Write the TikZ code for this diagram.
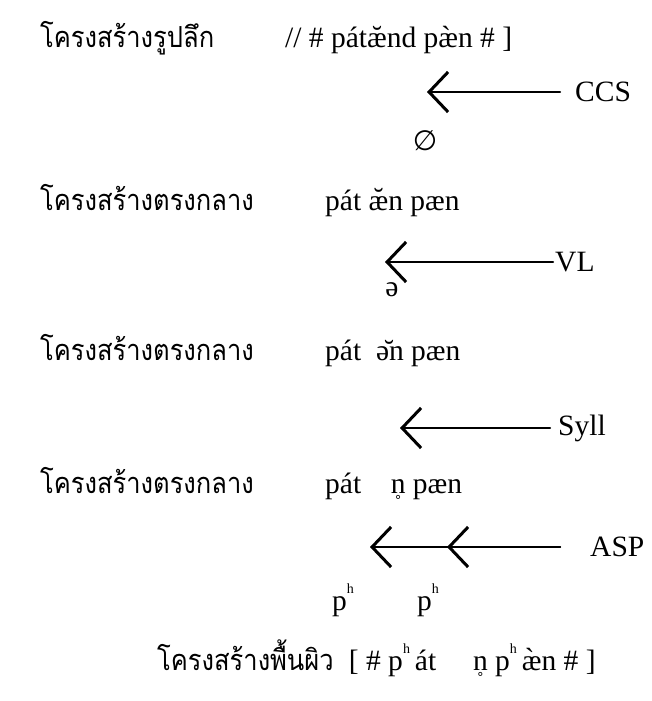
\documentclass[tikz,border=0pt]{standalone}
\usepackage{fontspec}
\setmainfont{Liberation Serif}
\newfontfamily\thai[Script=Thai,FakeStretch=0.88]{Loma}
\newfontfamily\symf{DejaVu Sans}
\usetikzlibrary{arrows.meta}
% aspirated p: a small h raised to ascender height
\newcommand{\asp}{p\raisebox{0.55em}{\fontsize{14}{14}\selectfont h}}
% voiceless n: n with a small ring below
\newcommand{\nring}{n\llap{\raisebox{-0.3em}{\makebox[0.5em]{\symf\fontsize{13}{13}\selectfont ∘}}}}
\begin{document}
\begin{tikzpicture}[x=1pt,y=-1pt,
  txt/.style={font=\fontsize{29.5}{31}\selectfont, inner sep=0pt, anchor=base west},
  th/.style={font=\thai\fontsize{29}{31}\selectfont, inner sep=0pt, anchor=base west},
  rule/.style={line width=2.2pt, line cap=round,
    -{Straight Barb[length=19pt,width=40pt,line width=3pt]}},
  lab/.style={font=\fontsize{29.5}{31}\selectfont, inner sep=0pt, anchor=west}]
\useasboundingbox (0,0) rectangle (651,701);

% underlying form
\node[th]  (deep)  at (40,48)  {โครงสร้างรูปลึก};
\node[txt] (deepf) at (285,48) {// \# pátæ̆nd pæ̀n \# ]};

% rule CCS
\node[lab] (ccs) at (575,92) {CCS};
\coordinate (ccstip) at (427,92);
\draw[rule, shorten <=15pt] (ccs.west) -- (ccs.west -| ccstip);
\node[font=\symf\fontsize{28}{30}\selectfont, inner sep=0pt] (null) at (425,141) {∅};

% intermediate 1
\node[th]  (mid1)  at (40,210)  {โครงสร้างตรงกลาง};
\node[txt] (mid1f) at (325,210) {pát æ̆n pæn};

% rule VL
\node[lab] (vl) at (555,262) {VL};
\coordinate (vltip) at (385,262);
\draw[rule, shorten <=2pt] (vl.west) -- (vl.west -| vltip);
\node[txt, anchor=center] (schwa) at (392,290) {ə};

% intermediate 2
\node[th]  (mid2)  at (40,360)  {โครงสร้างตรงกลาง};
\node[txt] (mid2f) at (325,360) {pát\enspace ə̆n pæn};

% rule Syll
\node[lab] (syll) at (558,428) {Syll};
\coordinate (sylltip) at (400,428);
\draw[rule, shorten <=8pt] (syll.west) -- (syll.west -| sylltip);

% intermediate 3
\node[th]  (mid3)  at (40,493)  {โครงสร้างตรงกลาง};
\node[txt] (mid3f) at (325,493) {pát\quad \nring\ pæn};

% rule ASP (two applications)
\node[lab] (asp) at (590,547) {ASP};
\coordinate (asptipa) at (370,547);
\coordinate (asptipb) at (447,547);
\draw[rule, shorten <=30pt] (asp.west) -- (asp.west -| asptipa);
\draw[rule, shorten <=30pt] (asp.west) -- (asp.west -| asptipb);
\node[txt] (pha) at (332,610) {\asp};
\node[txt] (phb) at (417,610) {\asp};

% surface form
\node[th]  (surf)  at (157,670) {โครงสร้างพื้นผิว};
\node[txt, anchor=base west] (surff) at (surf.base east)
  {\ \ [ \# \asp\,át\quad\ \nring\ \asp\,æ̀n \# ]};
\end{tikzpicture}
\end{document}
